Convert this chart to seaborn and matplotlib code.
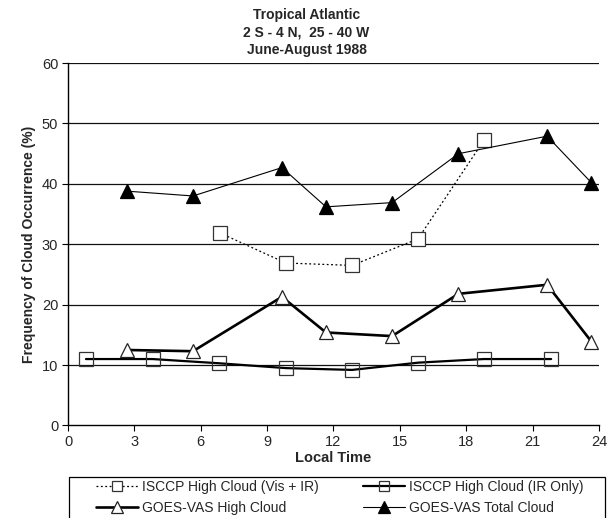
import matplotlib
matplotlib.use("Agg")
import matplotlib.pyplot as plt
from matplotlib.patches import Rectangle
import seaborn as sns
import pandas as pd

vis_ir_time = [6.85, 9.85, 12.84, 15.82, 18.82]
vis_ir = [31.9, 26.9, 26.5, 30.9, 47.3]
ir_time = [0.81, 3.82, 6.83, 9.85, 12.84, 15.82, 18.8, 21.84]
ir_only = [11.0, 11.0, 10.3, 9.5, 9.2, 10.4, 11.0, 11.0]
goes_time = [2.65, 5.65, 9.67, 11.66, 14.65, 17.65, 21.66, 23.66]
goes_high = [12.5, 12.3, 21.3, 15.4, 14.8, 21.8, 23.3, 13.9]
goes_total = [38.8, 38.0, 42.7, 36.2, 36.9, 45.0, 47.9, 40.2]
x_ticks = [0, 3, 6, 9, 12, 15, 18, 21, 24]
y_ticks = [0, 10, 20, 30, 40, 50, 60]

sns.set_theme(style="white")
plt.rcParams['font.family'] = ['Liberation Sans', 'DejaVu Sans']

fig = plt.figure(figsize=(6.13, 5.18), dpi=100)
ax = fig.add_axes([0.111, 0.1786, 0.866, 0.6996])

series = [
    (vis_ir_time, vis_ir, "ISCCP High Cloud (Vis + IR)", dict(linestyle=(0, (1.5, 2)), lw=0.9, marker="s", mfc="white", mec="#333333", ms=9.5, mew=0.9)),
    (ir_time, ir_only, "ISCCP High Cloud (IR Only)", dict(linestyle="-", lw=1.6, marker="s", mfc="none", mec="#333333", ms=9.5, mew=0.9)),
    (goes_time, goes_high, "GOES-VAS High Cloud", dict(linestyle="-", lw=1.9, marker="^", mfc="white", mec="#222222", ms=10, mew=0.9)),
    (goes_time, goes_total, "GOES-VAS Total Cloud", dict(linestyle="-", lw=0.8, marker="^", mfc="black", mec="black", ms=10, mew=0.9)),
]

for xs, ys, name, st in series:
    df = pd.DataFrame({"t": xs, "v": ys})
    sns.lineplot(data=df, x="t", y="v", ax=ax, color="black", label=name,
                 linestyle=st["linestyle"], lw=st["lw"], marker=st["marker"],
                 markerfacecolor=st["mfc"], markeredgecolor=st["mec"],
                 markersize=st["ms"], markeredgewidth=st["mew"], zorder=3)

ax.set_xlim(0, 24)
ax.set_ylim(0, 60)
ax.set_xticks(x_ticks)
ax.set_yticks(y_ticks)
ax.set_xticklabels([str(t) for t in x_ticks], fontsize=10.5)
ax.set_yticklabels([str(t) for t in y_ticks], fontsize=10.5)
for y in y_ticks[1:]:
    ax.axhline(y, color="#111111", lw=0.9, zorder=1)
for s in ["top", "right"]:
    ax.spines[s].set_visible(False)
for s in ["left", "bottom"]:
    ax.spines[s].set_color("black")
    ax.spines[s].set_linewidth(1.0)
ax.tick_params(axis="both", direction="out", length=4, width=0.8, color="black", bottom=True, left=True, pad=3)
ax.set_xlabel("Local Time", fontsize=10.5, fontweight="bold", labelpad=1)
ax.set_ylabel("Frequency of Cloud Occurrence (%)", fontsize=10, fontweight="bold", labelpad=4)

fig.text(0.5, 0.971, "Tropical Atlantic", ha="center", va="center", fontsize=10, fontweight="bold")
fig.text(0.5, 0.938, "2 S - 4 N,  25 - 40 W", ha="center", va="center", fontsize=10, fontweight="bold")
fig.text(0.5, 0.904, "June-August 1988", ha="center", va="center", fontsize=10, fontweight="bold")

handles, labels = ax.get_legend_handles_labels()
ax.get_legend().remove()
idx = [0, 2, 1, 3]
fig.patches.append(Rectangle((69 / 613, -0.02), (605 - 69) / 613, 0.02 + (518 - 477) / 518,
                             transform=fig.transFigure, fill=False, edgecolor="black", lw=0.9))
leg = fig.legend([handles[i] for i in idx], [labels[i] for i in idx], loc="upper left",
                 bbox_to_anchor=(96 / 613, (518 - 480) / 518), ncol=2,
                 frameon=False, fontsize=10, handlelength=3.0, columnspacing=3.2,
                 borderaxespad=0, borderpad=0.0, labelspacing=0.5,
                 handletextpad=0.3, markerscale=0.8)

fig.savefig("out.png", dpi=100)
